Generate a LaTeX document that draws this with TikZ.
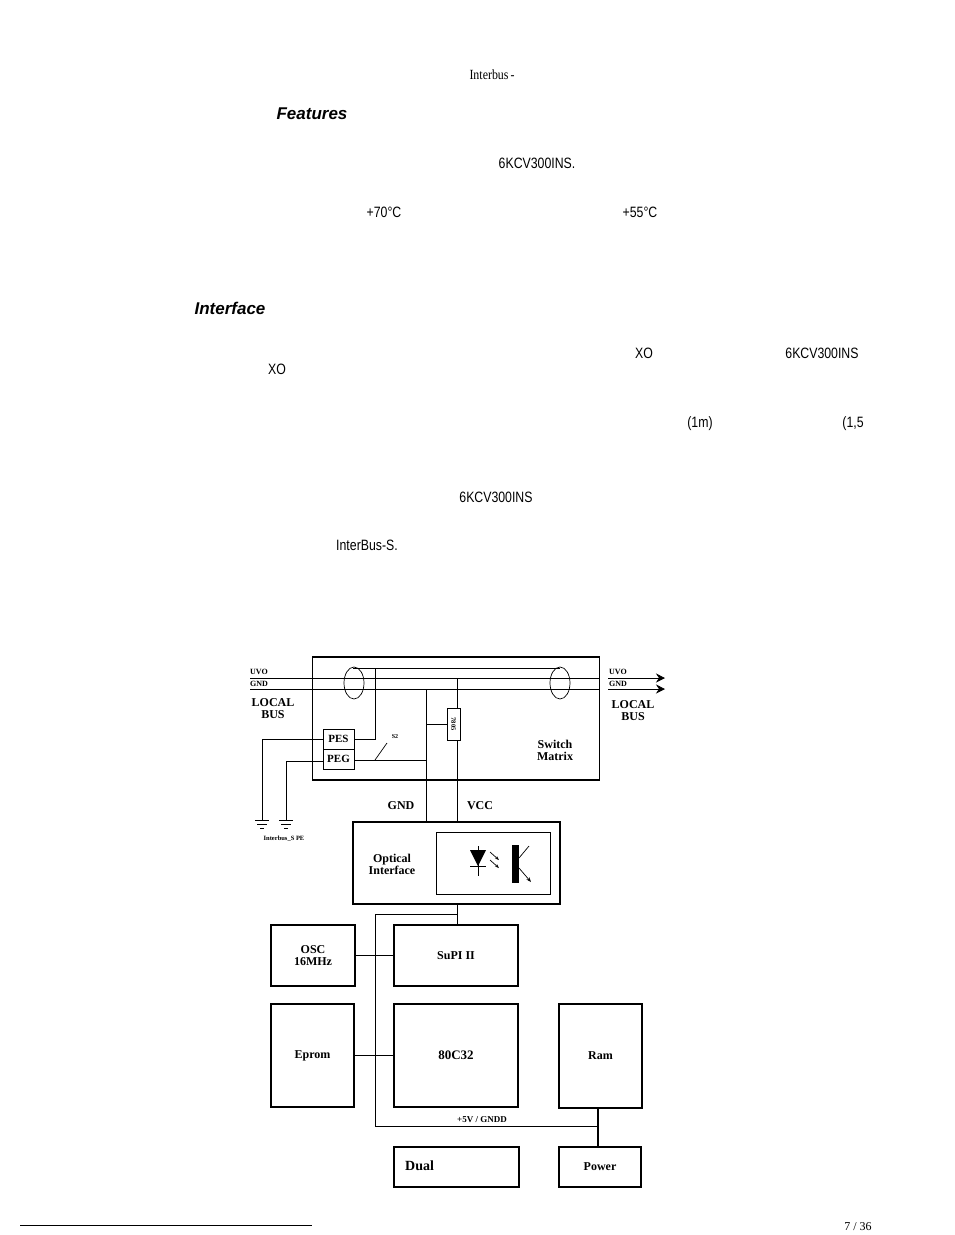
\documentclass[tikz,border=0pt]{standalone}
\usepackage{fontspec}
\setmainfont{Liberation Serif}
\newfontfamily\arialf{Liberation Sans}
\usetikzlibrary{arrows.meta}
\begin{document}
\begin{tikzpicture}[x=1pt,y=-1pt,
  pt/.style={font=\arialf\fontsize{15}{15}\selectfont,xscale=0.82,inner sep=0},
  hd/.style={font=\arialf\bfseries\itshape\fontsize{17}{17}\selectfont,inner sep=0},
  lb/.style={font=\bfseries\fontsize{12}{12}\selectfont,inner sep=0,align=center},
  sm/.style={font=\bfseries\fontsize{8}{8}\selectfont,inner sep=0},
  blk/.style={draw,line width=1.6pt},
  wire/.style={line width=0.7pt}]
\useasboundingbox (0,0) rectangle (954,1235);
% page text fragments
\node[font=\fontsize{14}{14}\selectfont,xscale=0.85,inner sep=0] (t0) at (492,75) {Interbus\,-};
\node[hd] (t1) at (312,114) {Features};
\node[pt] (t2) at (537,163) {6KCV300INS.};
\node[pt] (t3) at (384,212) {+70°C};
\node[pt] (t4) at (640,212) {+55°C};
\node[hd] (t5) at (230,308) {Interface};
\node[pt] (t6) at (644,353) {XO};
\node[pt] (t7) at (822,353) {6KCV300INS};
\node[pt] (t8) at (277,369) {XO};
\node[pt] (t9) at (700,424) {(1m)};
\node[pt] (t10) at (853,424) {(1,5};
\node[pt] (t11) at (496,497) {6KCV300INS};
\node[pt] (t12) at (367,545) {InterBus-S.};
\node[font=\fontsize{12}{12}\selectfont,inner sep=0,anchor=north] (pg) at (858,1222) {7 / 36};
\draw[line width=0.8pt] (20,1225) -- (312,1225);
% switch matrix box
\node[blk,minimum width=287,minimum height=123,inner sep=0] (sw) at (456,718.5) {};
\node[lb] (swt) at (555,750) {Switch\\Matrix};
% bus lines
\coordinate (uvoL) at (250,678); \coordinate (uvoR) at (600,678);
\coordinate (gndL) at (250,689); \coordinate (gndR) at (600,689);
\draw[wire] (uvoL) -- (uvoR);
\draw[wire] (gndL) -- (gndR);
\draw[wire] (353,668) -- (560,668);
\draw[wire] (354,683) ellipse (10 and 16);
\draw[wire] (560,683) ellipse (10 and 16);
\node[sm,anchor=west] (uvol) at (250,672) {UVO};
\node[sm,anchor=west] (gndl) at (250,684) {GND};
\node[lb,font=\bfseries\fontsize{12}{12}\selectfont] (lbl) at (273,709) {LOCAL\\BUS};
\coordinate (ra1) at (608,678); \coordinate (ra2) at (665,678);
\coordinate (rb1) at (608,689); \coordinate (rb2) at (665,689);
\draw[wire,-{Stealth[length=9pt,width=9pt]}] (ra1) -- (ra2);
\draw[wire,-{Stealth[length=9pt,width=9pt]}] (rb1) -- (rb2);
\node[sm,anchor=west] (uvor) at (609,672) {UVO};
\node[sm,anchor=west] (gndr) at (609,684) {GND};
\node[lb,font=\bfseries\fontsize{12}{12}\selectfont] (lbr) at (633,711) {LOCAL\\BUS};
% PES / PEG
\node[draw,line width=1pt,minimum width=31,minimum height=20,inner sep=0,font=\bfseries\fontsize{11}{11}\selectfont] (pes) at (338.5,739) {PES};
\node[draw,line width=1pt,minimum width=31,minimum height=20,inner sep=0,font=\bfseries\fontsize{11}{11}\selectfont] (peg) at (338.5,759) {PEG};
\draw[wire] (375,668) -- (375,739) -- (pes.east);
\draw[wire] (pes.west) -- (262,739) -- (262,820);
\draw[wire] (peg.west |- 0,761) -- (286,761) -- (286,820);
\coordinate (s2a) at (375,760);
\draw[wire] (peg.east |- 0,760) -- (426,760);
\draw[wire] (s2a) -- (387,743);
\node[sm,font=\bfseries\fontsize{6}{6}\selectfont] (s2) at (395,737) {S2};
\foreach \gx in {262,286}{
  \draw[line width=1pt] (\gx-7,820) -- (\gx+7,820);
  \draw[line width=1pt] (\gx-5,824) -- (\gx+5,824);
  \draw[line width=1pt] (\gx-2,828) -- (\gx+2,828);}
\node[sm,font=\bfseries\fontsize{6.5}{6.5}\selectfont] (ipe) at (284,839) {Interbus\_S PE};
% 7805
\node[draw,line width=1pt,minimum width=13,minimum height=32,inner sep=0] (reg) at (453.5,724) {};
\node[sm,rotate=-90,font=\bfseries\fontsize{6.5}{6.5}\selectfont] (regt) at (reg) {7805};
\draw[wire] (426,689) -- (426,822);
\draw[wire] (426,724) -- (reg.west);
\draw[wire] (457,678) -- (reg.north -| 457,0);
\draw[wire] (reg.south -| 457,0) -- (457,822);
\node[lb] (gndt) at (401,806) {GND};
\node[lb] (vcct) at (480,806) {VCC};
% optical interface
\node[blk,minimum width=207,minimum height=82,inner sep=0] (opt) at (456.5,863) {};
\node[lb] (optt) at (392,864) {Optical\\Interface};
\node[draw,line width=1pt,minimum width=114,minimum height=62,inner sep=0] (inn) at (493,863) {};
\fill (470,850) -- (486,850) -- (478,866) -- cycle;
\draw[line width=1pt] (470,866) -- (486,866);
\draw[wire] (478,846) -- (478,876);
\draw[wire,-{Stealth[length=4pt]}] (490,852) -- (499,860);
\draw[wire,-{Stealth[length=4pt]}] (490,860) -- (499,868);
\fill (512,845) rectangle (519,883);
\draw[wire] (519,858) -- (529,846);
\draw[wire,-{Stealth[length=5pt]}] (519,868) -- (531,882);
% lower blocks
\node[blk,minimum width=84,minimum height=61,inner sep=0,lb] (osc) at (313,955.5) {OSC\\16MHz};
\node[blk,minimum width=124,minimum height=61,inner sep=0,lb] (supi) at (456,955.5) {SuPI II};
\node[blk,minimum width=83,minimum height=103,inner sep=0,lb] (eprom) at (312.5,1055.5) {Eprom};
\node[blk,minimum width=124,minimum height=103,inner sep=0,lb,font=\bfseries\fontsize{13}{13}\selectfont] (cpu) at (456,1055.5) {80C32};
\node[blk,minimum width=83,minimum height=104,inner sep=0,lb] (ram) at (600.5,1056) {Ram};
\node[blk,minimum width=125,minimum height=40,inner sep=0] (dual) at (456.5,1167) {};
\node[lb,font=\bfseries\fontsize{14}{14}\selectfont,anchor=west] (dualt) at (405,1166) {Dual};
\node[blk,minimum width=82,minimum height=40,inner sep=0,lb] (pow) at (600,1167) {Power};
\draw[wire] (osc.east) -- (supi.west);
\draw[wire] (eprom.east) -- (cpu.west);
\draw[wire] (opt.south -| 457,0) -- (457,914) -- (375,914) -- (375,1126) -- (598,1126);
\draw[wire] (457,914) -- (supi.north -| 457,0);
\draw[line width=1.3pt] (ram.south -| 598,0) -- (pow.north -| 598,0);
\node[sm,font=\bfseries\fontsize{9}{9}\selectfont] (pw) at (482,1120) {+5V / GNDD};
\end{tikzpicture}
\end{document}
